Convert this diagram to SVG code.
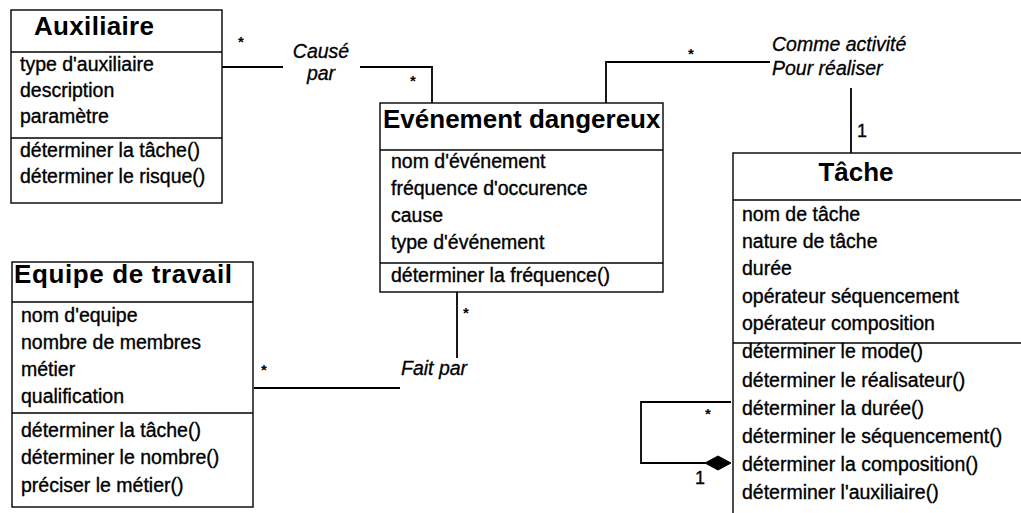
<svg xmlns="http://www.w3.org/2000/svg" width="1021" height="513" viewBox="0 0 1021 513">
  <style>
    .box { fill: #fff; stroke: #000; stroke-width: 1.4; }
    .sep { stroke: #000; stroke-width: 1.4; }
    .title { font-family: "Liberation Sans", Arial, sans-serif; font-weight: bold; font-size: 26px; fill: #000; }
    .item { font-family: "Liberation Sans", Arial, sans-serif; font-size: 19.5px; fill: #000; stroke: #000; stroke-width: 0.35; }
    .role { font-family: "Liberation Sans", Arial, sans-serif; font-style: italic; font-size: 19.5px; fill: #000; stroke: #000; stroke-width: 0.3; }
    .mult { font-family: "Liberation Sans", Arial, sans-serif; font-weight: bold; font-size: 15px; fill: #000; }
    .one { font-family: "Liberation Sans", Arial, sans-serif; font-size: 18px; fill: #000; stroke: #000; stroke-width: 0.3; }
    .link { fill: none; stroke: #000; stroke-width: 1.8; }
  </style>
  <rect width="1021" height="513" fill="#fff"/>

  <!-- associations -->
  <g id="connectors">
    <!-- Auxiliaire / Evénement dangereux : Causé par -->
    <path class="link" d="M222 67 H283"/>
    <path class="link" d="M360 67 H432 V103"/>
    <text class="role" x="321" y="58" text-anchor="middle">Causé</text>
    <text class="role" x="321" y="80" text-anchor="middle">par</text>
    <text class="mult" x="238" y="47">*</text>
    <text class="mult" x="410" y="86">*</text>

    <!-- Evénement dangereux / Tâche : Comme activité, Pour réaliser -->
    <path class="link" d="M606 103 V62 H770"/>
    <path class="link" d="M851 88 V153"/>
    <text class="role" x="772" y="51">Comme activité</text>
    <text class="role" x="772" y="75">Pour réaliser</text>
    <text class="mult" x="688" y="59">*</text>
    <text class="one" x="857" y="137">1</text>

    <!-- Equipe de travail / Evénement dangereux : Fait par -->
    <path class="link" d="M254 388 H400"/>
    <path class="link" d="M457 292 V358"/>
    <text class="role" x="401" y="375">Fait par</text>
    <text class="mult" x="261" y="375">*</text>
    <text class="mult" x="463" y="318">*</text>

    <!-- Tâche composition (self) -->
    <path class="link" d="M731 402 H641 V463 H706"/>
    <polygon points="705,463 718,456 731,463 718,470" fill="#000" stroke="#000" stroke-width="1"/>
    <text class="mult" x="705" y="419">*</text>
    <text class="one" x="695" y="484">1</text>
  </g>

  <!-- Auxiliaire -->
  <g id="auxiliaire">
    <rect class="box" x="11" y="10" width="211" height="193"/>
    <line class="sep" x1="11" y1="52" x2="222" y2="52"/>
    <line class="sep" x1="11" y1="138" x2="222" y2="138"/>
    <text class="title" x="34" y="35" textLength="120" lengthAdjust="spacing">Auxiliaire</text>
    <text class="item" x="20" y="71">type d'auxiliaire</text>
    <text class="item" x="20" y="97">description</text>
    <text class="item" x="20" y="123">paramètre</text>
    <text class="item" x="20" y="157">déterminer la tâche()</text>
    <text class="item" x="20" y="183">déterminer le risque()</text>
  </g>

  <!-- Evénement dangereux -->
  <g id="evenement">
    <rect class="box" x="380" y="103" width="283" height="189"/>
    <line class="sep" x1="380" y1="150" x2="663" y2="150"/>
    <line class="sep" x1="380" y1="263" x2="663" y2="263"/>
    <text class="title" x="383" y="128">Evénement dangereux</text>
    <text class="item" x="391" y="168">nom d'événement</text>
    <text class="item" x="391" y="195">fréquence d'occurence</text>
    <text class="item" x="391" y="222">cause</text>
    <text class="item" x="391" y="249">type d'événement</text>
    <text class="item" x="391" y="282">déterminer la fréquence()</text>
  </g>

  <!-- Tâche (box runs on past the right edge) -->
  <g id="tache">
    <rect class="box" x="733" y="153" width="300" height="370"/>
    <line class="sep" x1="733" y1="200" x2="1021" y2="200"/>
    <line class="sep" x1="733" y1="343" x2="1021" y2="343"/>
    <text class="title" x="856" y="181" text-anchor="middle">Tâche</text>
    <text class="item" x="742" y="221">nom de tâche</text>
    <text class="item" x="742" y="248">nature de tâche</text>
    <text class="item" x="742" y="275">durée</text>
    <text class="item" x="742" y="303">opérateur séquencement</text>
    <text class="item" x="742" y="330">opérateur composition</text>
    <text class="item" x="742" y="358">déterminer le mode()</text>
    <text class="item" x="742" y="387">déterminer le réalisateur()</text>
    <text class="item" x="742" y="415">déterminer la durée()</text>
    <text class="item" x="742" y="443">déterminer le séquencement()</text>
    <text class="item" x="742" y="471">déterminer la composition()</text>
    <text class="item" x="742" y="499">déterminer l'auxiliaire()</text>
  </g>

  <!-- Equipe de travail -->
  <g id="equipe">
    <rect class="box" x="12" y="262" width="241" height="245"/>
    <line class="sep" x1="12" y1="302" x2="253" y2="302"/>
    <line class="sep" x1="12" y1="413" x2="253" y2="413"/>
    <text class="title" x="14" y="283" textLength="218" lengthAdjust="spacing">Equipe de travail</text>
    <text class="item" x="21" y="322">nom d'equipe</text>
    <text class="item" x="21" y="349">nombre de membres</text>
    <text class="item" x="21" y="376">métier</text>
    <text class="item" x="21" y="403">qualification</text>
    <text class="item" x="21" y="437">déterminer la tâche()</text>
    <text class="item" x="21" y="464">déterminer le nombre()</text>
    <text class="item" x="21" y="492">préciser le métier()</text>
  </g>
</svg>
